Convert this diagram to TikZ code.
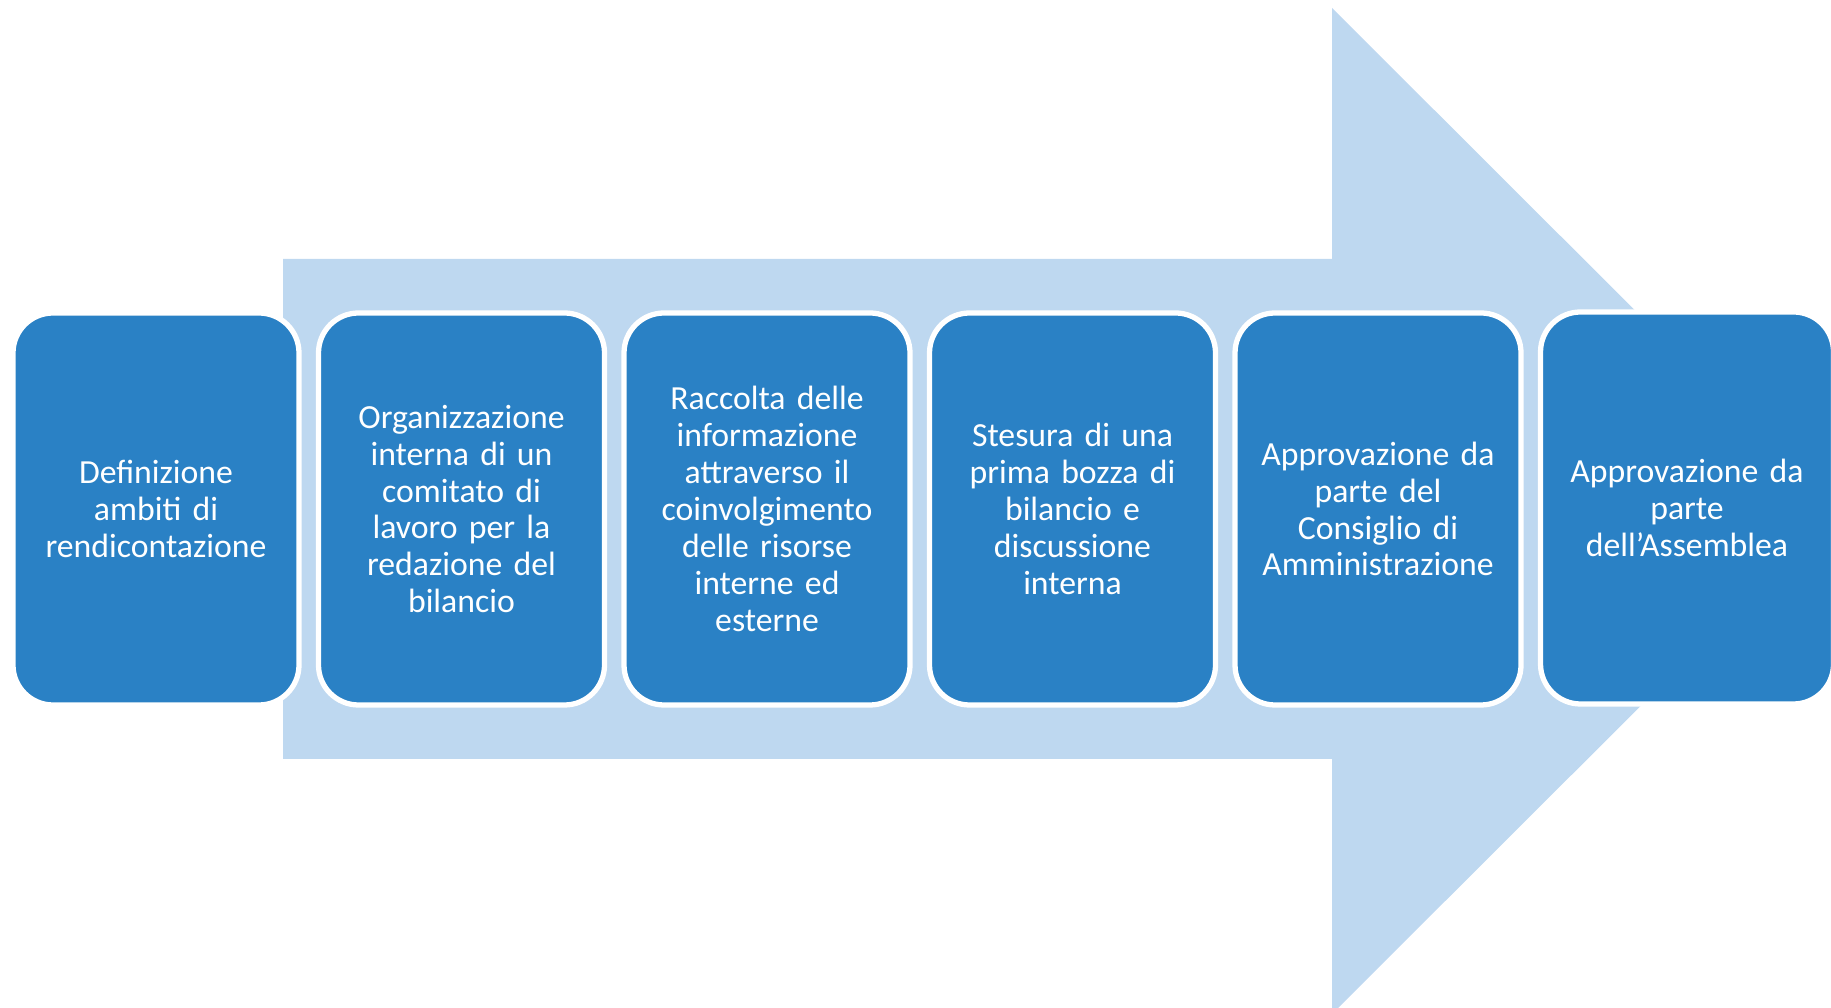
\documentclass[tikz,border=0pt]{standalone}
\usepackage{fontspec}
\setmainfont{Carlito}
\usepackage{xcolor}
\usepackage{tikz}
\usetikzlibrary{shapes,arrows,positioning,calc}

\definecolor{arrowblue}{RGB}{190,216,240}
\definecolor{stepblue}{RGB}{42,129,197}

\tikzset{
    stepbox/.style={draw=white, line width=1.5pt, fill=stepblue, rounded corners=0.4cm,
        minimum width=2.86cm, minimum height=3.92cm, inner sep=0pt,
        text width=2.7cm, align=center, text=white,
        font=\fontsize{9.6}{10.5}\selectfont}
}

\begin{document}
\begin{tikzpicture}
    \useasboundingbox (0,0) rectangle (18.31,10.08);
    \clip (0,0) rectangle (18.31,10.08);

    % big arrow behind
    \fill[arrowblue] (2.83,7.49) -- (13.32,7.49) -- (13.32,10.00) -- (18.36,4.97)
        -- (13.32,-0.06) -- (13.32,2.49) -- (2.83,2.49) -- cycle;

    % steps
    \node[stepbox] (s1) at (1.56,4.99) {Definizione\\ambiti di\\rendicontazione};
    \node[stepbox] (s2) at (4.615,4.99) {Organizzazione\\interna di un\\comitato di\\lavoro per la\\redazione del\\bilancio};
    \node[stepbox] (s3) at (7.67,4.99) {Raccolta delle\\informazione\\attraverso il\\coinvolgimento\\delle risorse\\interne ed\\esterne};
    \node[stepbox] (s4) at (10.725,4.99) {Stesura di una\\prima bozza di\\bilancio e\\discussione\\interna};
    \node[stepbox] (s5) at (13.78,4.99) {Approvazione da\\parte del\\Consiglio di\\Amministrazione};
    \node[stepbox, minimum width=2.93cm] (s6) at (16.87,5.0) {Approvazione da\\parte\\dell’Assemblea};
\end{tikzpicture}
\end{document}
